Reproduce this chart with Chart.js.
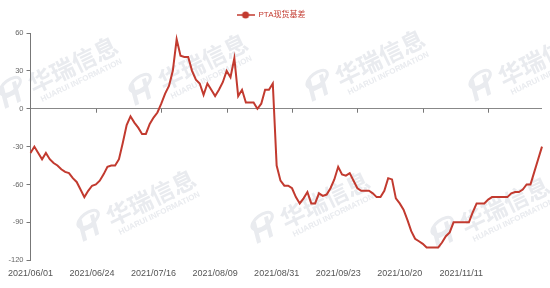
<!DOCTYPE html>
<html>
<head>
<meta charset="utf-8">
<script src="https://cdn.jsdelivr.net/npm/chart.js@4.4.1/dist/chart.umd.min.js"></script>
<style>
  html, body { margin: 0; padding: 0; background: #fff; }
  #c { display: block; }
</style>
</head>
<body>
<canvas id="c" width="550" height="288"></canvas>
<script>
// =======================
// DATA
// =======================
const seriesName = 'PTA现货基差';
const tickLabels = ['2021/06/01','2021/06/24','2021/07/16','2021/08/09','2021/08/31','2021/09/23','2021/10/20','2021/11/11'];
const basis = [
  -35,-30,-35,-40,-35,-40,-43,-45,-48,-50,
  -51,-55,-58,-64,-70,-65,-61,-60,-57,-52,
  -46,-45,-45,-40,-27,-13,-6,-11,-15,-20,
  -20,-12,-7,-3,4,12,18,30,55,42,
  41,41,30,23,20,11,20,15,10,15,
  21,30,25,40,10,15,5,5,5,0,
  4,15,15,20,-45,-57,-61,-61,-63,-70,
  -75,-71,-66,-75,-75,-67,-69,-68,-63,-56,
  -46,-52,-53,-51,-57,-63,-65,-65,-65,-67,
  -70,-70,-65,-55,-56,-71,-75,-80,-88,-97,
  -103,-105,-107,-110,-110,-110,-110,-106,-101,-98,
  -90,-90,-90,-90,-90,-82,-75,-75,-75,-72,
  -70,-70,-70,-70,-70,-67,-66,-66,-64,-60,
  -60,-50,-40,-30
];
const labelEvery = 16;     // one date label every 16 trading days
const axisTickEvery = 17;  // tick marks on the zero line

const labels = basis.map((v, i) => (i % labelEvery === 0 && tickLabels[i / labelEvery]) ? tickLabels[i / labelEvery] : '');

// =======================
// STYLE
// =======================
const red = '#c23a2f';
const axisGrey = '#777';
const textGrey = '#555';
const fontFamily = "'Liberation Sans', 'Noto Sans CJK SC', sans-serif";
const wmColor = '#e9ebef';
const watermarkSpots = [[10,95],[140,92],[317,88],[480,88],[88,228],[262,230],[442,235]];

// legend icon: line with a dot
const legendIcon = document.createElement('canvas');
legendIcon.width = 18; legendIcon.height = 8;
const g = legendIcon.getContext('2d');
g.strokeStyle = red; g.lineWidth = 1.5;
g.beginPath(); g.moveTo(0, 4); g.lineTo(18, 4); g.stroke();
g.fillStyle = red;
g.beginPath(); g.arc(9, 4, 3.5, 0, Math.PI * 2); g.fill();

// =======================
// PLUGINS
// =======================
const watermark = {
  id: 'watermark',
  beforeDraw(chart){
    const ctx = chart.ctx;
    watermarkSpots.forEach(([x, y]) => {
      ctx.save();
      ctx.translate(x, y);
      ctx.rotate(-0.45);
      ctx.fillStyle = wmColor;
      ctx.strokeStyle = wmColor;
      ctx.textBaseline = 'middle';
      ctx.textAlign = 'center';
      ctx.font = "bold italic 30px 'Liberation Sans'";
      ctx.fillText('H', 0, 2);
      ctx.lineWidth = 3;
      ctx.beginPath(); ctx.ellipse(4, -8, 12, 6, -0.2, 0, Math.PI * 2); ctx.stroke();
      ctx.textAlign = 'left';
      ctx.font = "bold 24px 'Noto Sans CJK SC'";
      ctx.fillText('华瑞信息', 22, 0);
      ctx.font = "bold 8px 'Liberation Sans'";
      ctx.fillText('HUARUI INFORMATION', 26, 18);
      ctx.restore();
    });
  }
};

// leave a little more room under the legend
const legendGap = {
  id: 'legendGap',
  afterInit(chart){
    const lg = chart.legend;
    if (!lg) return;
    const fit = lg.fit;
    lg.fit = function(){ fit.call(this); this.height += 4; };
  }
};

const zeroTicks = {
  id: 'zeroTicks',
  afterDatasetsDraw(chart){
    const {ctx, scales:{x, y}} = chart;
    const y0 = y.getPixelForValue(0);
    ctx.save();
    ctx.strokeStyle = axisGrey;
    ctx.lineWidth = 1;
    for (let i = axisTickEvery; i < basis.length; i += axisTickEvery) {
      const px = Math.round(x.getPixelForValue(i)) + 0.5;
      ctx.beginPath(); ctx.moveTo(px, y0); ctx.lineTo(px, y0 + 4); ctx.stroke();
    }
    ctx.restore();
  }
};

// =======================
// CHART
// =======================
new Chart(document.getElementById('c'), {
  type: 'line',
  data: {
    labels,
    datasets: [{
      label: seriesName,
      data: basis,
      borderColor: red,
      backgroundColor: red,
      borderWidth: 2,
      pointRadius: 0,
      tension: 0,
      fill: false
    }]
  },
  options: {
    responsive: false,
    animation: false,
    devicePixelRatio: 1,
    layout: { padding: { top: 3, left: 0, right: 8, bottom: 1 } },
    plugins: {
      tooltip: { enabled: false },
      legend: {
        position: 'top',
        labels: {
          color: red,
          font: { size: 8, family: fontFamily },
          usePointStyle: true,
          pointStyle: legendIcon,
          pointStyleWidth: 18,
          padding: 8
        }
      }
    },
    scales: {
      x: {
        offset: false,
        border: { display: false },
        grid: { display: false, drawTicks: false },
        ticks: {
          autoSkip: false,
          maxRotation: 0,
          padding: 8,
          color: textGrey,
          font: { size: 9, family: fontFamily }
        }
      },
      y: {
        min: -120,
        max: 60,
        afterFit: s => { s.width = 27; },
        border: { display: true, color: axisGrey },
        grid: {
          color: c => c.tick && c.tick.value === 0 ? '#888' : 'rgba(0,0,0,0)',
          tickColor: axisGrey,
          tickLength: 4
        },
        ticks: {
          stepSize: 30,
          padding: 3,
          color: '#666',
          font: { size: 7.5, family: fontFamily }
        }
      }
    }
  },
  plugins: [watermark, legendGap, zeroTicks]
});
</script>
</body>
</html>
